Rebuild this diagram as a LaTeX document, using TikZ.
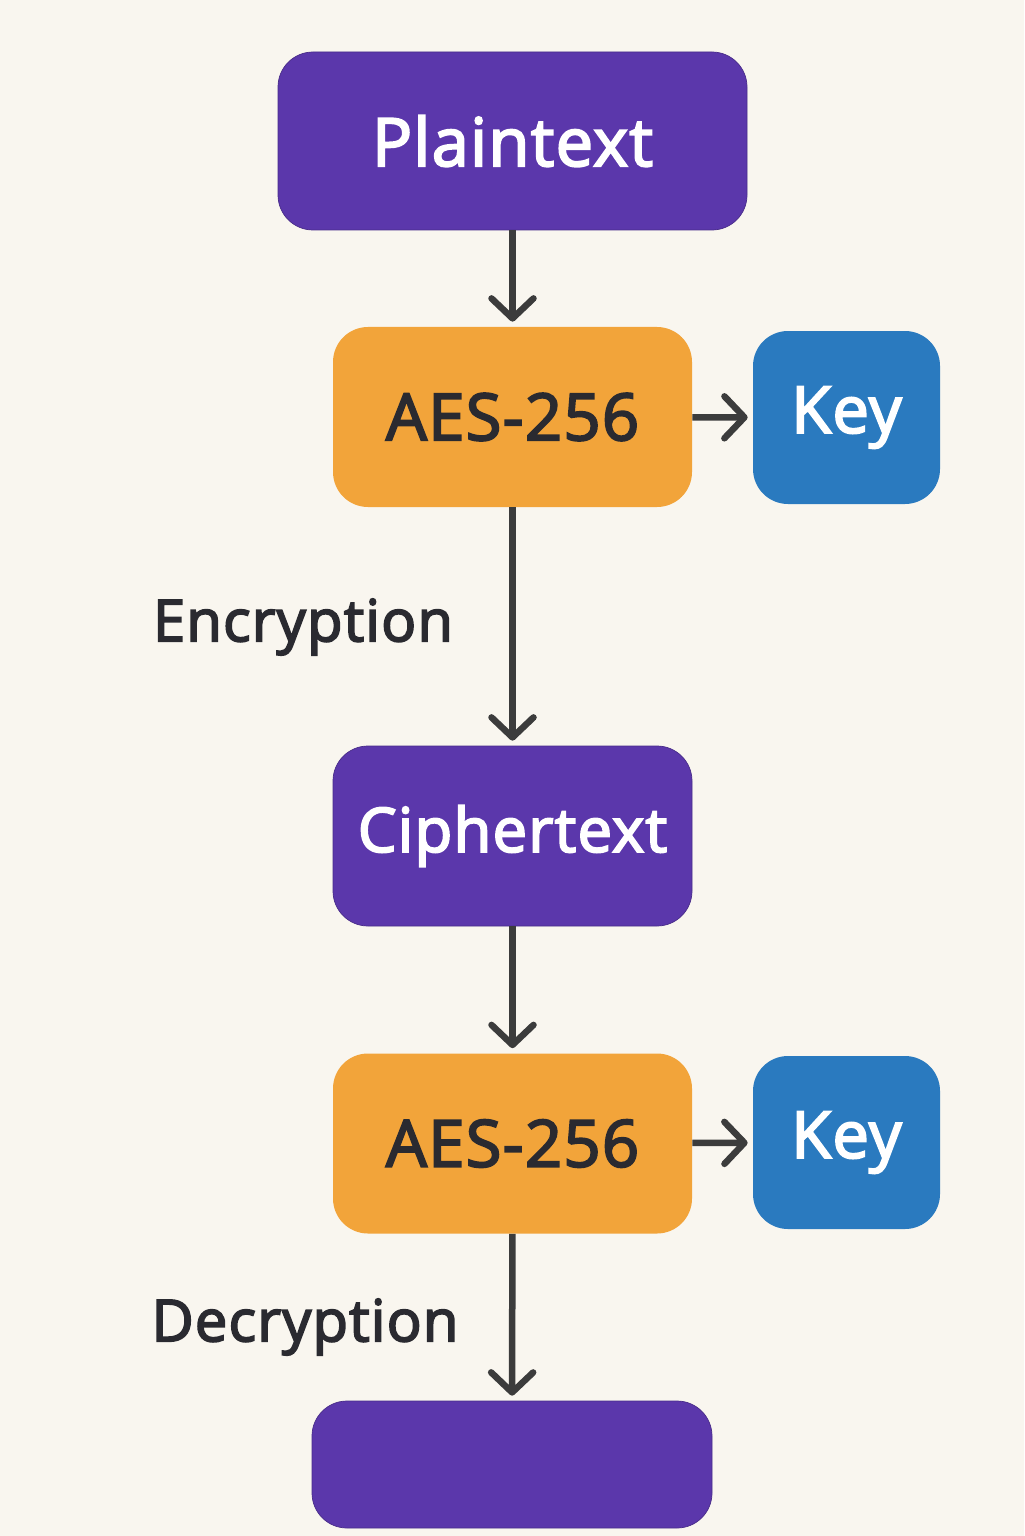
\documentclass[tikz,border=0pt]{standalone}
\usepackage{fontspec}
\setsansfont{Open Sans}[BoldFont={Open Sans}, BoldFeatures={FakeBold=3, LetterSpace=2}]
\usepackage{tikz}
\usetikzlibrary{arrows.meta}
\usetikzlibrary{positioning}
\usepackage{xcolor}

\definecolor{paper}{HTML}{F9F6EF}
\definecolor{plum}{HTML}{5B37AB}
\definecolor{amber}{HTML}{F2A43A}
\definecolor{keyblue}{HTML}{2A7ABF}
\definecolor{ink}{HTML}{2A2A30}
\definecolor{wire}{HTML}{3C3C3C}

\tikzset{
  box/.style={rounded corners=0.7cm, inner sep=0pt, font=\sffamily\bfseries},
  plumbox/.style={box, fill=plum, draw=plum!80!black, text=white},
  amberbox/.style={box, fill=amber, text=ink, minimum width=7.18cm, minimum height=3.6cm},
  keybox/.style={box, fill=keyblue, text=white, minimum width=3.74cm, minimum height=3.46cm},
  flow/.style={-{Straight Barb[round, length=0.4cm, width=0.84cm]}, line width=0.13cm, wire, shorten >=0.1cm},
  lbl/.style={font=\sffamily\bfseries\fontsize{33}{40}\selectfont, text=ink}
}

\begin{document}
\begin{tikzpicture}

%background
\fill[paper] (0,0) rectangle (20.48,-30.72);

%boxes
\node [plumbox, minimum width=9.38cm, minimum height=3.56cm, font=\sffamily\bfseries\fontsize{38}{46}\selectfont] (plain) at (10.25,-2.82) {Plaintext};
\node [amberbox, font=\sffamily\bfseries\fontsize{37}{46}\selectfont] (aesA) at (10.25,-8.34) {AES-256};
\node [keybox, font=\sffamily\bfseries\fontsize{37}{44}\selectfont] (keyA) at (16.93,-8.35) {Key};
\node [plumbox, minimum width=7.18cm, minimum height=3.6cm, font=\sffamily\bfseries\fontsize{35}{44}\selectfont] (cipher) at (10.25,-16.72) {Ciphertext};
\node [amberbox, font=\sffamily\bfseries\fontsize{37}{46}\selectfont] (aesB) at (10.25,-22.87) {AES-256};
\node [keybox, font=\sffamily\bfseries\fontsize{37}{44}\selectfont] (keyB) at (16.93,-22.85) {Key};
\node [plumbox, minimum width=8.0cm, minimum height=2.54cm] (result) at (10.24,-29.29) {};

%arrows
\draw [flow] (plain) -- (aesA);
\draw [flow] (aesA) -- (keyA);
\draw [flow] (aesA) -- (cipher);
\draw [flow] (cipher) -- (aesB);
\draw [flow] (aesB) -- (keyB);
\draw [flow] (aesB) -- (result);

%labels
\node [lbl] (enc) at (6.06,-12.54) {Encryption};
\node [lbl] (dec) at (6.1,-26.54) {Decryption};

\end{tikzpicture}
\end{document}
